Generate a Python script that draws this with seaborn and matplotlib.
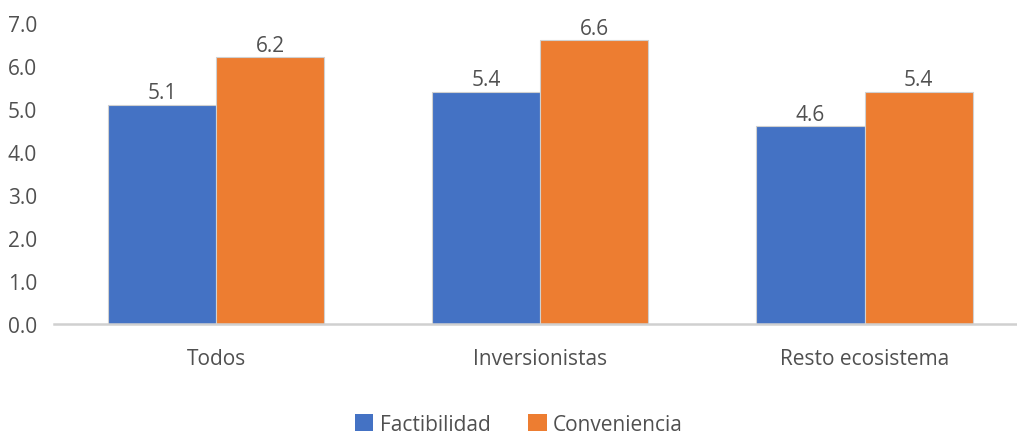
import matplotlib
matplotlib.use("Agg")
import matplotlib.pyplot as plt
import seaborn as sns
import pandas as pd
from matplotlib.patches import Patch

categories = ["Todos", "Inversionistas", "Resto ecosistema"]
factibilidad = [5.1, 5.4, 4.6]
conveniencia = [6.2, 6.6, 5.4]
series_names = ["Factibilidad", "Conveniencia"]
colors = ["#4472C4", "#ED7D31"]
yticks = [0, 1, 2, 3, 4, 5, 6, 7]

df = pd.DataFrame({
    "categoria": categories * 2,
    "serie": [series_names[0]] * 3 + [series_names[1]] * 3,
    "valor": factibilidad + conveniencia,
})

sns.set_theme(style="white")
plt.rcParams["font.family"] = ["Open Sans", "DejaVu Sans"]
text_color = "#505050"
fs = 15

fig = plt.figure(figsize=(10.17, 4.35), dpi=100)
ax = fig.add_axes([0.053, 0.253, 0.947, 0.692])

sns.barplot(data=df, x="categoria", y="valor", hue="serie", order=categories,
            hue_order=series_names, palette=colors, saturation=1, width=0.667,
            ax=ax, edgecolor="#d0d0d0", linewidth=0.8, legend=False, errorbar=None)

for container in ax.containers:
    ax.bar_label(container, fmt="%.1f", padding=1, fontsize=fs, color=text_color)

ax.set_ylim(0, 7)
ax.set_xlim(-0.5, 2.47)
ax.set_yticks(yticks)
ax.set_yticklabels([f"{v:.1f}" for v in yticks], fontsize=fs, color=text_color)
ax.tick_params(axis="x", labelsize=fs, colors=text_color, pad=17, length=0)
ax.tick_params(axis="y", length=0, pad=12)
ax.set_xlabel("")
ax.set_ylabel("")
for side in ["top", "right", "left"]:
    ax.spines[side].set_visible(False)
ax.spines["bottom"].set_color("#d0d0d0")
ax.spines["bottom"].set_linewidth(1.8)

handles = [Patch(facecolor=c, edgecolor="none") for c in colors]
fig.legend(handles, series_names, loc="center", bbox_to_anchor=(0.51, 0.022),
           ncol=2, frameon=False, fontsize=fs, handlelength=0.9, handleheight=0.85,
           handletextpad=0.3, columnspacing=1.8, labelcolor=text_color,
           borderpad=0)

fig.savefig("out.png", dpi=100)
